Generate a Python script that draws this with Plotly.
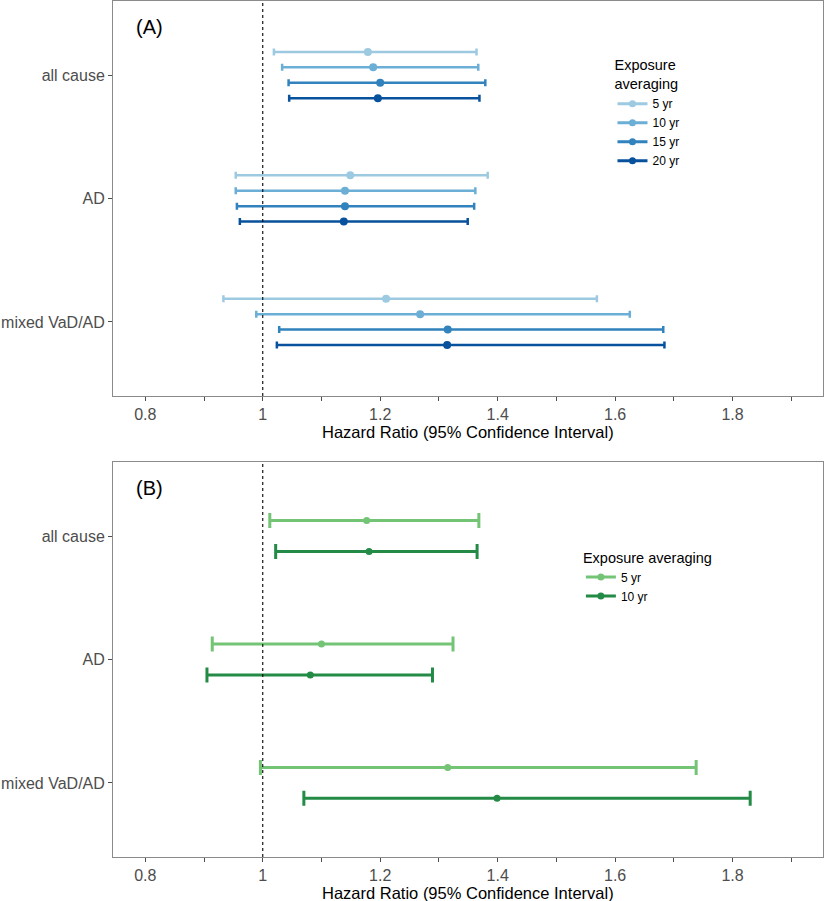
import plotly.graph_objects as go
from plotly.subplots import make_subplots

# outcomes on the y axis (top to bottom)
causes = ["all cause", "AD", "mixed VaD/AD"]

# panel A: exposure averaging windows
a_groups = ["5 yr", "10 yr", "15 yr", "20 yr"]
a_colors = ["#9ecae1", "#6baed6", "#3182bd", "#08519c"]
a_hr = [
    [1.179, 1.149, 1.210],
    [1.188, 1.140, 1.268],
    [1.200, 1.140, 1.315],
    [1.196, 1.138, 1.314],
]
a_lo = [
    [1.019, 0.954, 0.933],
    [1.033, 0.954, 0.989],
    [1.044, 0.956, 1.028],
    [1.045, 0.961, 1.024],
]
a_hi = [
    [1.364, 1.383, 1.569],
    [1.367, 1.362, 1.625],
    [1.379, 1.360, 1.682],
    [1.369, 1.349, 1.684],
]

# panel B
b_groups = ["5 yr", "10 yr"]
b_colors = ["#74c476", "#238b45"]
b_hr = [
    [1.177, 1.100, 1.315],
    [1.181, 1.081, 1.399],
]
b_lo = [
    [1.012, 0.914, 0.996],
    [1.022, 0.905, 1.070],
]
b_hi = [
    [1.368, 1.324, 1.738],
    [1.365, 1.289, 1.830],
]

x_major = [0.8, 1.0, 1.2, 1.4, 1.6, 1.8]
x_minor = [0.9, 1.1, 1.3, 1.5, 1.7, 1.9]
x_labels = ["0.8", "1", "1.2", "1.4", "1.6", "1.8"]

font_family = "Liberation Sans, Arial, Helvetica, sans-serif"
border = "#8a8a8a"
tickgrey = "#4d4d4d"

fig = make_subplots(rows=2, cols=1)


def add_panel(row, groups, colors, hr, lo, hi, legend, dodge, lw, capw, msize):
    n = len(groups)
    for i, grp in enumerate(groups):
        off = (i - (n - 1) / 2) * dodge / n
        ys = [k + 1 + off for k in range(len(causes))]
        fig.add_trace(go.Scatter(
            x=hr[i], y=ys,
            mode="markers",
            marker=dict(color=colors[i], size=msize),
            error_x=dict(
                type="data", symmetric=False,
                array=[h - m for h, m in zip(hi[i], hr[i])],
                arrayminus=[m - l for m, l in zip(hr[i], lo[i])],
                color=colors[i], thickness=lw, width=capw,
            ),
            name=grp,
            legend=legend,
            showlegend=False,
            hoverinfo="skip",
        ), row=row, col=1)
        # legend entry (line + point)
        fig.add_trace(go.Scatter(
            x=[None], y=[None],
            mode="lines+markers",
            line=dict(color=colors[i], width=3),
            marker=dict(color=colors[i], size=7),
            name=grp,
            legend=legend,
        ), row=row, col=1)


add_panel(1, a_groups, a_colors, a_hr, a_lo, a_hi, "legend", 0.5, 2.5, 3.5, 8)
add_panel(2, b_groups, b_colors, b_hr, b_lo, b_hi, "legend2", 0.5, 3, 7.5, 7)

for ax in ["x", "x2"]:
    fig.add_shape(type="line", xref=ax, yref=ax.replace("x", "y") + " domain",
                  x0=1, x1=1, y0=0, y1=1,
                  line=dict(color="black", width=1.1, dash="dot"))

xaxis_common = dict(
    range=[0.745, 1.954],
    tickvals=x_major,
    ticktext=x_labels,
    ticks="outside", ticklen=4, tickcolor=tickgrey, tickwidth=1,
    minor=dict(tickvals=x_minor, ticks="outside",
               ticklen=4, tickcolor=tickgrey, tickwidth=1),
    showgrid=False, zeroline=False,
    showline=True, mirror=True, linecolor=border, linewidth=1,
    tickfont=dict(size=16, color=tickgrey),
    automargin=False,
)
yaxis_common = dict(
    range=[3.6, 0.4],
    tickvals=[1, 2, 3], ticktext=causes,
    ticks="outside", ticklen=4, tickcolor=tickgrey, tickwidth=1,
    showgrid=False, zeroline=False,
    showline=True, mirror=True, linecolor=border, linewidth=1,
    tickfont=dict(size=16, color=tickgrey),
    automargin=False,
)

fig.update_xaxes(**xaxis_common)
fig.update_yaxes(**yaxis_common)
fig.update_yaxes(domain=[0.5386, 1.0], row=1, col=1)
fig.update_yaxes(domain=[0.0, 0.4615], row=2, col=1)

for xa, ya, lab in [("x", "y", "(A)"), ("x2", "y2", "(B)")]:
    fig.add_annotation(text=lab, xref=xa + " domain", yref=ya + " domain",
                       x=0.03, y=0.967, xanchor="left", yanchor="top",
                       showarrow=False, font=dict(size=20, color="black"))
    fig.add_annotation(text="Hazard Ratio (95% Confidence Interval)",
                       xref=xa + " domain", yref=ya + " domain",
                       x=0.5, y=0, yshift=-25, xanchor="center", yanchor="top",
                       showarrow=False, font=dict(size=16.5, color="black"))

fig.update_layout(
    width=824, height=901,
    margin=dict(l=113, r=1, t=1, b=44),
    plot_bgcolor="white", paper_bgcolor="white",
    font=dict(family=font_family, color="black"),
    legend=dict(
        title=dict(text="Exposure<br>averaging", font=dict(size=14.5), side="top"),
        font=dict(size=12), x=0.7035, y=0.941, xanchor="left", yanchor="top",
        bgcolor="rgba(0,0,0,0)", itemwidth=30, tracegroupgap=0,
    ),
    legend2=dict(
        title=dict(text="Exposure averaging", font=dict(size=14.5), side="top"),
        font=dict(size=12), x=0.659, y=0.366, xanchor="left", yanchor="top",
        bgcolor="rgba(0,0,0,0)", itemwidth=30, tracegroupgap=0,
    ),
)

# drop the browser's default body margin so the 824x901 figure fills the window
fig.write_html("out.html",
               config={"displayModeBar": False},
               post_script="document.body.style.margin='0';"
                           "document.body.style.overflow='hidden';")
